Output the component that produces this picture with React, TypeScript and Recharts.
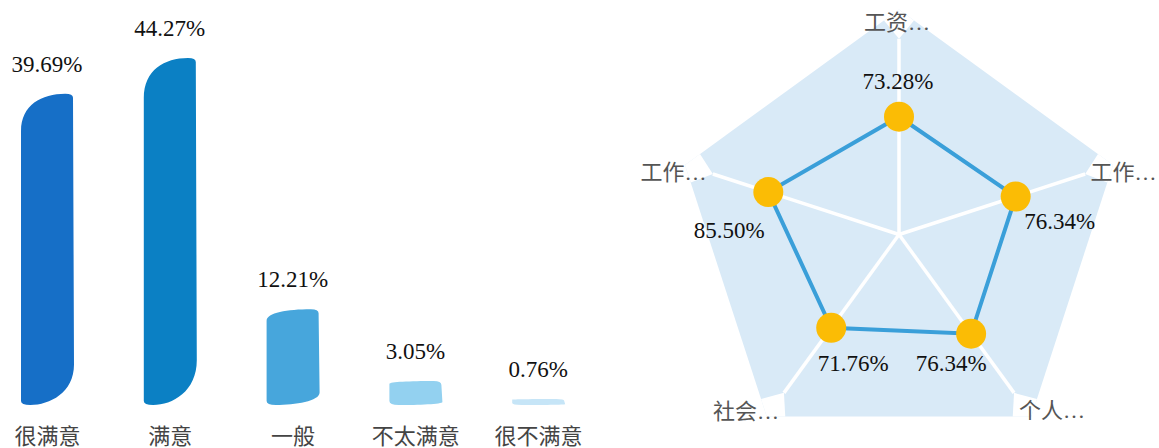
import {
    BarChart,
    Bar,
    XAxis,
    YAxis,
    Cell,
    LabelList,
    RadarChart,
    Radar,
    PolarAngleAxis,
    PolarRadiusAxis
} from 'recharts';

// left: satisfaction levels
const levels = ['很满意', '满意', '一般', '不太满意', '很不满意'];
const shares = [39.69, 44.27, 12.21, 3.05, 0.76];
const barColors = ['#166fc7', '#0b80c4', '#47a6dc', '#93d1f0', '#c6e5f7'];

// right: factor scores (clockwise from top)
const factors = ['工资…', '工作…', '个人…', '社会…', '工作…'];
const scores = [73.28, 76.34, 76.34, 71.76, 85.5];
const gridMax = 140;

const numFont = '"Times New Roman", "Liberation Serif", "DejaVu Serif", serif';
const cjkFont = '"Times New Roman", "Liberation Serif", "Noto Sans CJK SC", serif';

const barData = levels.map((level, i) => ({ level, share: shares[i] }));
const radarData = factors.map((_, i) => ({ axis: i, score: scores[i], bg: gridMax }));

// label nudges, relative to the library's own anchor points
const tickShift = [[-2, 21], [3, 10], [16, -13], [-16, -12], [-4, 10]];
const valueShift = [[-1, -35], [44, 25], [-20, 30], [22, 36], [-39, 38]];

const RCX = 278;
const RCY = 234.5;

function LeafBar(props: any) {
    const { x, y, width: w, height: h, fill } = props;
    if (!h || h <= 0) return null;
    const b = y + h;
    const tl = Math.min(40, h * 0.12);
    const br = Math.min(45, h * 0.13);
    const s = Math.min(4, h / 3);
    const d = [
        `M ${x} ${b - s}`,
        `L ${x} ${y + tl}`,
        `C ${x} ${y + tl * 0.3} ${x + w * 0.4} ${y} ${x + w * 0.85} ${y}`,
        `Q ${x + w} ${y} ${x + w} ${y + s}`,
        `L ${x + w + 1} ${b - br}`,
        `C ${x + w + 1} ${b - br * 0.3} ${x + w * 0.55} ${b} ${x + w * 0.18} ${b}`,
        `Q ${x} ${b} ${x} ${b - s}`,
        'Z'
    ].join(' ');
    return <path d={d} fill={fill} />;
}

function Backdrop(props: any) {
    const pts = props.points || [];
    const n = pts.length;
    const d = pts.map((p: any, i: number) => `${i ? 'L' : 'M'} ${p.x} ${p.y}`).join(' ') + ' Z';
    return (
        <g>
            <path d={d} fill="#d9eaf7" stroke="none" />
            {pts.map((p: any, i: number) => {
                const prev = pts[(i + n - 1) % n];
                const next = pts[(i + 1) % n];
                const ax = RCX + (p.x - RCX) * 0.87;
                const ay = RCY + (p.y - RCY) * 0.87;
                const e1x = p.x + (prev.x - p.x) * 0.07;
                const e1y = p.y + (prev.y - p.y) * 0.07;
                const e2x = p.x + (next.x - p.x) * 0.07;
                const e2y = p.y + (next.y - p.y) * 0.07;
                return (
                    <g key={i}>
                        <path d={`M ${p.x} ${p.y} L ${e1x} ${e1y} L ${ax} ${ay} L ${e2x} ${e2y} Z`} fill="#fff" />
                        <line x1={RCX} y1={RCY} x2={ax} y2={ay} stroke="#fff" strokeWidth={3.5} />
                    </g>
                );
            })}
        </g>
    );
}

function ScoreShape(props: any) {
    const pts = props.points || [];
    const d = pts.map((p: any, i: number) => `${i ? 'L' : 'M'} ${p.x} ${p.y}`).join(' ') + ' Z';
    return (
        <g>
            <path d={d} fill="none" stroke="#3a9fd9" strokeWidth={4} />
            {pts.map((p: any, i: number) => (
                <text
                    key={i}
                    x={p.x + valueShift[i][0]}
                    y={p.y + valueShift[i][1]}
                    textAnchor="middle"
                    dominantBaseline="central"
                    fontSize={23}
                    fontFamily={numFont}
                    fill="#111"
                >
                    {scores[i].toFixed(2)}%
                </text>
            ))}
        </g>
    );
}

function AngleTick(props: any) {
    const { x, y, payload } = props;
    const i = Number(payload.value);
    return (
        <text
            x={x + tickShift[i][0]}
            y={y + tickShift[i][1]}
            textAnchor="middle"
            dominantBaseline="central"
            fontSize={22}
            fontFamily={cjkFont}
            fill="#555"
        >
            {factors[i]}
        </text>
    );
}

export default function App() {
    return (
        <div style={{ position: 'absolute', left: 0, top: 0, width: 1159, height: 448, background: '#fff', overflow: 'hidden' }}>
            <div style={{ position: 'absolute', left: -14, top: 0 }}>
                <BarChart
                    width={614}
                    height={448}
                    data={barData}
                    margin={{ top: 13, right: 0, bottom: 13, left: 0 }}
                    barSize={52}
                >
                    <XAxis
                        dataKey="level"
                        height={30}
                        axisLine={false}
                        tickLine={false}
                        interval={0}
                        tickMargin={17}
                        tick={{ fill: '#444', fontSize: 22, fontFamily: cjkFont }}
                    />
                    <YAxis hide domain={[0, 50]} />
                    <Bar dataKey="share" shape={LeafBar} isAnimationActive={false}>
                        {barData.map((_, i) => (
                            <Cell key={i} fill={barColors[i]} />
                        ))}
                        <LabelList
                            dataKey="share"
                            position="top"
                            offset={22}
                            formatter={(v: any) => `${Number(v).toFixed(2)}%`}
                            fill="#111"
                            fontSize={23}
                            fontFamily={numFont}
                        />
                    </Bar>
                </BarChart>
            </div>
            <div style={{ position: 'absolute', left: 621, top: 0 }}>
                <RadarChart
                    width={538}
                    height={448}
                    data={radarData}
                    cx={RCX}
                    cy={RCY}
                    outerRadius={225}
                    margin={{ top: 0, right: 0, bottom: 0, left: 0 }}
                >
                    <PolarAngleAxis dataKey="axis" axisLine={false} tickLine={false} tick={AngleTick} />
                    <PolarRadiusAxis domain={[0, gridMax]} tick={false} axisLine={false} />
                    <Radar dataKey="bg" shape={Backdrop} isAnimationActive={false} />
                    <Radar
                        dataKey="score"
                        shape={ScoreShape}
                        dot={{ r: 15, fill: '#fbbc05', stroke: 'none', fillOpacity: 1 }}
                        isAnimationActive={false}
                    />
                </RadarChart>
            </div>
        </div>
    );
}
